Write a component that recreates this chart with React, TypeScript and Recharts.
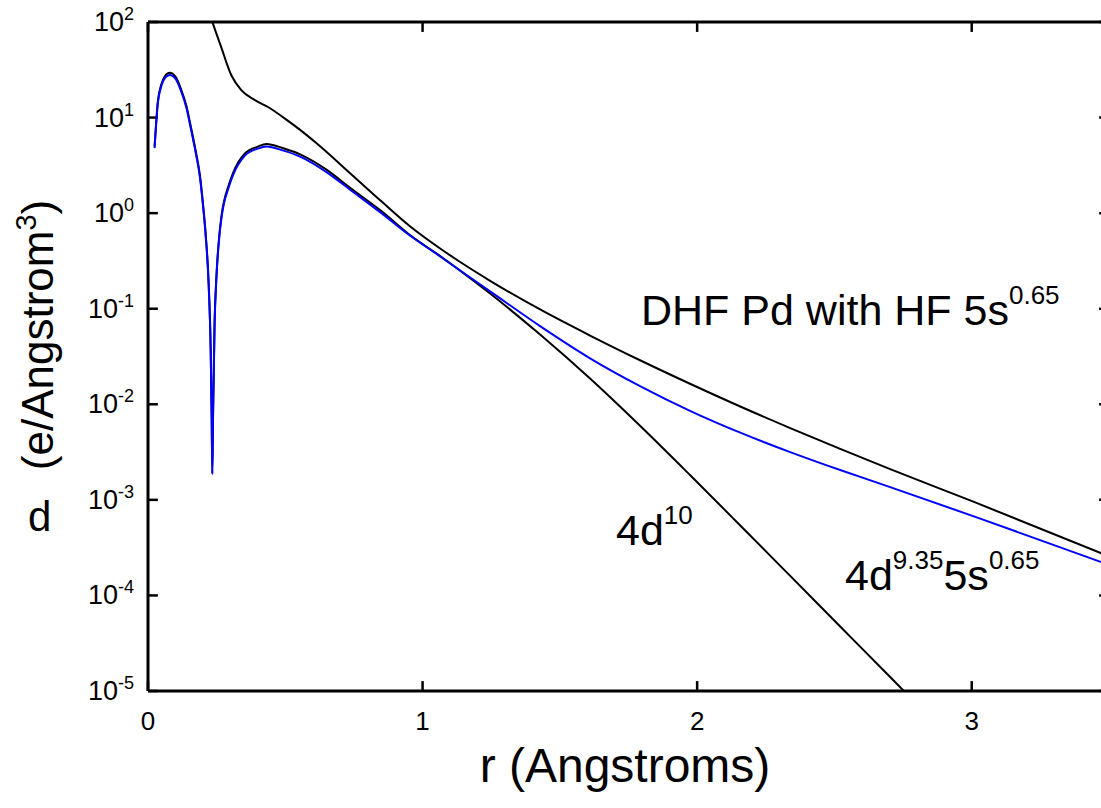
// Pd radial density: DHF core with HF 5s, 4d10 and 4d9.35 5s0.65 (log y axis)
import { Line, LineChart, ReferenceLine, XAxis, YAxis } from 'recharts'

// upper curve, DHF Pd with HF 5s^0.65
const rDHF = [0.18, 0.205, 0.236, 0.266, 0.303, 0.339, 0.388, 0.437, 0.5, 0.554, 0.615, 0.736, 0.85, 0.954, 1.064, 1.137, 1.246, 1.428, 1.61, 1.792, 1.974, 2.157, 2.339, 2.521, 2.703, 3.013, 3.5]
const rhoDHF = [302, 178, 96.8, 55.2, 27.9, 19.5, 15.3, 12.9, 9.7, 7.43, 5.35, 2.62, 1.33, 0.73, 0.427, 0.308, 0.196, 0.0982, 0.0524, 0.0289, 0.0164, 0.00948, 0.00564, 0.00342, 0.0021, 0.00094, 0.000256]

// 4d^10
const r4d10 = [0.024, 0.036, 0.048, 0.062, 0.079, 0.1, 0.121, 0.14, 0.155, 0.173, 0.1894, 0.2, 0.2102, 0.2211, 0.2284, 0.232, 0.2342, 0.2365, 0.2425, 0.249, 0.26, 0.268, 0.295, 0.31, 0.352, 0.4, 0.432, 0.49, 0.554, 0.65, 0.736, 0.85, 0.954, 1.064, 1.137, 1.246, 1.428, 1.61, 1.792, 1.974, 2.157, 2.339, 2.521, 2.703, 2.85]
const rho4d10 = [5.0, 14.9, 22.0, 27.2, 29.4, 26.8, 19.6, 13.2, 8.3, 4.6, 2.46, 1.28, 0.6, 0.18, 0.0365, 0.0072, 0.0019, 0.0066, 0.072, 0.214, 0.6, 0.95, 2.0, 2.64, 4.18, 4.97, 5.3, 4.8, 4.12, 2.85, 1.84, 1.05, 0.59, 0.356, 0.25, 0.144, 0.0537, 0.0186, 0.00596, 0.00182, 0.00054, 0.00016, 0.0000473, 0.000014, 0.0000052]

// 4d^9.35 5s^0.65 (blue)
const r4d935 = [0.024, 0.036, 0.048, 0.062, 0.079, 0.1, 0.121, 0.14, 0.155, 0.173, 0.1894, 0.2, 0.2102, 0.2211, 0.2284, 0.232, 0.2342, 0.2365, 0.2425, 0.249, 0.26, 0.268, 0.295, 0.31, 0.352, 0.4, 0.432, 0.49, 0.554, 0.65, 0.736, 0.85, 0.954, 1.064, 1.137, 1.246, 1.428, 1.61, 1.792, 1.974, 2.157, 2.339, 2.521, 2.703, 3.013, 3.5]
const rho4d935 = [4.79, 14.3, 21.1, 26.0, 27.9, 25.5, 18.7, 12.6, 7.9, 4.38, 2.34, 1.22, 0.571, 0.171, 0.0348, 0.0069, 0.00185, 0.0063, 0.069, 0.204, 0.575, 0.91, 1.9, 2.51, 3.98, 4.73, 4.98, 4.54, 3.91, 2.69, 1.76, 1.0, 0.583, 0.352, 0.251, 0.152, 0.0658, 0.0303, 0.0155, 0.00855, 0.00505, 0.00316, 0.00205, 0.00136, 0.000664, 0.000209]

const xTicks = [0, 1, 2, 3]
const yTicks = [1e-5, 1e-4, 1e-3, 1e-2, 1e-1, 1, 10, 100]
const X_MIN = 0
const X_MAX = 3.5
const Y_MIN = 1e-5
const Y_MAX = 100

const FONT = '"Liberation Sans", Arial, sans-serif'
// inward tick length, in data units (~10px on this plot)
const TICK_DX = 0.036
const TICK_FY = 1.27

const toRows = (rs: number[], vals: number[]) => rs.map((r, i) => ({ r, rho: vals[i] }))

// "10" with a raised exponent
function PowerTick({ x, y, payload }: any) {
  const exp = Math.round(Math.log10(payload.value))
  return (
    <text x={x - 14} y={y + 9} textAnchor="end" fontSize={27} fontFamily={FONT} fill="#000">
      10<tspan dy={-11} fontSize={18}>{exp}</tspan>
    </text>
  )
}

function NumberTick({ x, y, payload }: any) {
  return (
    <text x={x} y={y + 39} textAnchor="middle" fontSize={26} fontFamily={FONT} fill="#000">
      {payload.value}
    </text>
  )
}

export default function App() {
  const tickStyle = { stroke: '#000', strokeWidth: 2.5, ifOverflow: 'visible' as const }
  const frameStyle = { stroke: '#000', strokeWidth: 3, ifOverflow: 'visible' as const }
  return (
    <div style={{ position: 'absolute', left: 0, top: 0, width: 1101, height: 808, overflow: 'hidden', background: '#fff' }}>
      <LineChart width={1110} height={808} margin={{ top: 0, right: 0, bottom: 0, left: 0 }}>
        <XAxis
          type="number"
          dataKey="r"
          domain={[X_MIN, X_MAX]}
          ticks={xTicks}
          interval={0}
          allowDataOverflow
          height={117}
          axisLine={false}
          tickLine={false}
          tickSize={0}
          tickMargin={0}
          tick={<NumberTick />}
        />
        <XAxis xAxisId="top" orientation="top" type="number" domain={[X_MIN, X_MAX]} height={22} axisLine={false} tickLine={false} tick={false} />
        <YAxis
          type="number"
          scale="log"
          domain={[Y_MIN, Y_MAX]}
          ticks={yTicks}
          interval={0}
          allowDataOverflow
          width={148}
          axisLine={false}
          tickLine={false}
          tickSize={0}
          tickMargin={0}
          tick={<PowerTick />}
        />
        <YAxis yAxisId="right" orientation="right" type="number" scale="log" domain={[Y_MIN, Y_MAX]} width={1} axisLine={false} tickLine={false} tick={false} />

        {/* inward tick marks on all four sides */}
        {xTicks.map((t) => (
          <ReferenceLine key={`b${t}`} segment={[{ x: t, y: Y_MIN }, { x: t, y: Y_MIN * TICK_FY }]} {...tickStyle} />
        ))}
        {xTicks.map((t) => (
          <ReferenceLine key={`t${t}`} segment={[{ x: t, y: Y_MAX }, { x: t, y: Y_MAX / TICK_FY }]} {...tickStyle} />
        ))}
        {yTicks.map((v) => (
          <ReferenceLine key={`l${v}`} segment={[{ x: X_MIN, y: v }, { x: X_MIN + TICK_DX, y: v }]} {...tickStyle} />
        ))}
        {yTicks.map((v) => (
          <ReferenceLine key={`r${v}`} segment={[{ x: X_MAX, y: v }, { x: X_MAX - TICK_DX, y: v }]} {...tickStyle} />
        ))}

        <Line data={toRows(rDHF, rhoDHF)} dataKey="rho" type="monotone" stroke="#000" strokeWidth={2} dot={false} isAnimationActive={false} />
        <Line data={toRows(r4d10, rho4d10)} dataKey="rho" type="monotone" stroke="#000" strokeWidth={2} dot={false} isAnimationActive={false} />
        <Line data={toRows(r4d935, rho4d935)} dataKey="rho" type="monotone" stroke="#0000ff" strokeWidth={2} dot={false} isAnimationActive={false} />

        {/* plot frame */}
        <ReferenceLine x={X_MIN} {...frameStyle} />
        <ReferenceLine x={X_MAX} {...frameStyle} />
        <ReferenceLine y={Y_MIN} {...frameStyle} />
        <ReferenceLine y={Y_MAX} {...frameStyle} />
      </LineChart>

      {/* titles and curve labels */}
      <svg width={1101} height={808} style={{ position: 'absolute', left: 0, top: 0, pointerEvents: 'none' }} fontFamily={FONT} fill="#000">
        <text x={625} y={782} textAnchor="middle" fontSize={48}>r (Angstroms)</text>
        <text x={53} y={335} textAnchor="middle" fontSize={44} transform="rotate(-90 53 335)">
          (e/Angstrom<tspan dy={-17} fontSize={29}>3</tspan><tspan dy={17}>)</tspan>
        </text>
        <text x={28} y={531} fontSize={42}>d</text>
        <text x={641} y={325} fontSize={43}>
          DHF Pd with HF 5s<tspan dy={-21} fontSize={26}>0.65</tspan>
        </text>
        <text x={616} y={545} fontSize={43}>
          4d<tspan dy={-21} fontSize={26}>10</tspan>
        </text>
        <text x={845} y={590} fontSize={43}>
          4d<tspan dy={-21} fontSize={26}>9.35</tspan><tspan dy={21} fontSize={43}>5s</tspan><tspan dy={-21} fontSize={26}>0.65</tspan>
        </text>
      </svg>
    </div>
  )
}
